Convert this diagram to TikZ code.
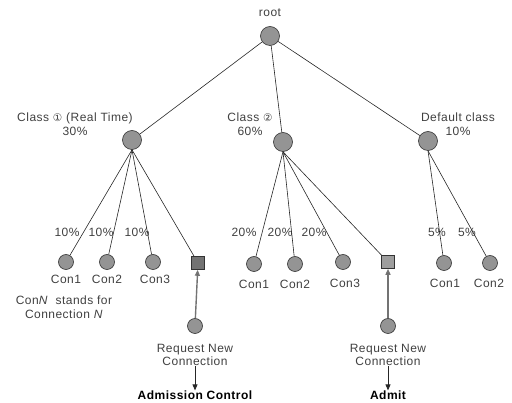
\documentclass[tikz,border=0pt]{standalone}
\usepackage{fontspec}
\setmainfont{Liberation Sans}[LetterSpace=4]
\newfontfamily\symfont{DejaVu Sans}
\usetikzlibrary{arrows.meta}
\begin{document}
\begin{tikzpicture}[x=1pt,y=-1pt,
  every node/.style={font=\fontsize{12}{13.5}\selectfont, text=black!75},
  bignode/.style={circle,draw=black!80,fill=black!42,minimum size=19pt,inner sep=0pt,line width=0.6pt},
  leaf/.style={circle,draw=black!80,fill=black!42,minimum size=15pt,inner sep=0pt,line width=0.6pt},
  sq/.style={rectangle,draw=black!80,fill=black!55,minimum size=13pt,inner sep=0pt,line width=0.6pt},
  sqlight/.style={sq,fill=black!38},
  lbl/.style={inner sep=0pt,align=center},
  edge/.style={draw=black!85,line width=0.6pt},
  up/.style={draw=black!55,line width=1.4pt,-{Triangle[length=6pt,width=5pt,fill=black!80]}},
  down/.style={draw=black!85,line width=0.8pt,-{Triangle[length=6pt,width=5pt]}},
  bold/.style={font=\fontsize{12}{13.5}\selectfont\bfseries,text=black}
]
\useasboundingbox (0,0) rectangle (512,403);

% main nodes
\node[bignode] (root) at (270,36) {};
\node[lbl] (rootl) at (270,13) {root};
\node[bignode] (c1) at (132,140) {};
\node[bignode] (c2) at (283,142) {};
\node[bignode] (c3) at (428,141) {};

\node[lbl] (c1l) at (75,124) {Class {\symfont\fontsize{10.5}{12}\selectfont ①} (Real Time)\\30\%};
\node[lbl] (c2l) at (250,124) {Class {\symfont\fontsize{10.5}{12}\selectfont ②}\\60\%};
\node[lbl] (c3l) at (458,124) {Default class\\10\%};

\draw[edge] (root) -- (c1);
\draw[edge] (root) -- (c2);
\draw[edge] (root) -- (c3);

% class 1 children
\node[leaf] (a1) at (66,262) {};
\node[leaf] (a2) at (107,262) {};
\node[leaf] (a3) at (153,262) {};
\node[sq] (as) at (198,263) {};
\node[lbl] (a1l) at (66,279) {Con1};
\node[lbl] (a2l) at (107,279) {Con2};
\node[lbl] (a3l) at (155,279) {Con3};
\node[lbl] (a1p) at (67,232) {10\%};
\node[lbl] (a2p) at (101,232) {10\%};
\node[lbl] (a3p) at (137,232) {10\%};
\draw[edge] (c1.south) -- (a1);
\draw[edge] (c1.south) -- (a2);
\draw[edge] (c1.south) -- (a3);
\draw[edge] (c1.south) -- (as);

% class 2 children
\node[leaf] (b1) at (254,264) {};
\node[leaf] (b2) at (295,264) {};
\node[leaf] (b3) at (343,262) {};
\node[sqlight] (bs) at (388,262) {};
\node[lbl] (b1l) at (254,284) {Con1};
\node[lbl] (b2l) at (295,284) {Con2};
\node[lbl] (b3l) at (345,283) {Con3};
\node[lbl] (b1p) at (244,232) {20\%};
\node[lbl] (b2p) at (280,232) {20\%};
\node[lbl] (b3p) at (314,232) {20\%};
\draw[edge] (c2.south) -- (b1);
\draw[edge] (c2.south) -- (b2);
\draw[edge] (c2.south) -- (b3);
\draw[edge] (c2.south) -- (bs);

% default class children
\node[leaf] (d1) at (444,263) {};
\node[leaf] (d2) at (490,263) {};
\node[lbl] (d1l) at (445,283) {Con1};
\node[lbl] (d2l) at (489,283) {Con2};
\node[lbl] (d1p) at (437,232) {5\%};
\node[lbl] (d2p) at (467,232) {5\%};
\draw[edge] (c3.south) -- (d1);
\draw[edge] (c3.south) -- (d2);

% legend
\node[lbl] (legend) at (64,307) {Con\textit{N} \ stands for\\Connection \textit{N}};

% requests
\node[leaf] (r1) at (195,326) {};
\node[lbl] (r1l) at (195,355) {Request New\\Connection};
\node[bold,lbl] (r1o) at (195,395) {Admission Control};
\draw[up] (r1) -- (as);
\draw[down] (r1l) -- (r1o);

\node[leaf] (r2) at (388,326) {};
\node[lbl] (r2l) at (388,355) {Request New\\Connection};
\node[bold,lbl] (r2o) at (388,395) {Admit};
\draw[up] (r2) -- (bs);
\draw[down] (r2l) -- (r2o);
\end{tikzpicture}
\end{document}
